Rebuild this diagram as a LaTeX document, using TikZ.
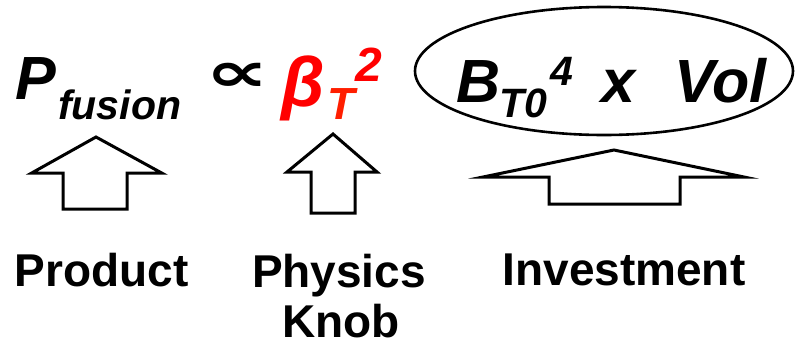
\documentclass[tikz,border=0pt]{standalone}
\usepackage{fontspec}
\setmainfont{Liberation Sans}
\newfontfamily\symfont{DejaVu Sans}
\definecolor{tred}{RGB}{255,0,0}
\definecolor{tredb}{RGB}{255,30,0}
\begin{document}
\begin{tikzpicture}[x=1pt,y=-1pt,
  big/.style={inner sep=0,anchor=base west,font=\fontsize{61}{61}\selectfont\bfseries\itshape},
  small/.style={inner sep=0,anchor=base west,font=\fontsize{41}{41}\selectfont\bfseries\itshape},
  lab/.style={inner sep=0,anchor=base,font=\fontsize{46}{50}\selectfont\bfseries},
  fat/.style={line width=3pt,line join=miter,miter limit=10}]
\useasboundingbox (0,0) rectangle (796,346);
% formula
\node[big] (P) at (15,99) {P};
\node[small] (fus) at (58,119) {fusion};
\node[inner sep=0,anchor=base west,font=\fontsize{56}{56}\selectfont\symfont\bfseries] (prop) at (205,91) {\scalebox{1.6}[1]{∝}};
\node[big,text=tred,font=\fontsize{70}{70}\selectfont\bfseries\itshape] (beta) at (281,106) {β};
\node[small,text=tredb,font=\fontsize{45}{45}\selectfont\bfseries\itshape] (T) at (327,119) {T};
\node[small,text=tred,font=\fontsize{48}{48}\selectfont\bfseries\itshape] (two) at (355,81) {2};
% ellipse group
\draw[line width=2.6pt] (604,71) ellipse [x radius=189, y radius=64];
\node[big] (B) at (456,102) {B};
\node[small] (T0) at (499,117) {T0};
\node[small] (four) at (550,85) {4};
\node[big] (x) at (601,102) {x};
\node[big] (vol) at (674,102) {Vol};
% arrows
\draw[fat] (96,137) -- (161.7,173) -- (127,173) -- (127,209) -- (63,209) -- (63,173) -- (31.7,173) -- cycle;
\draw[fat] (333,134) -- (377,172) -- (355,172) -- (355,213) -- (311,213) -- (311,172) -- (287,172) -- cycle;
\draw[fat] (614,150) -- (744,177) -- (680,177) -- (680,204) -- (549,204) -- (549,177) -- (483,177) -- cycle;
% labels
\node[lab] (prod) at (101.5,286) {Product};
\node[lab] (phys) at (339,287) {Physics};
\node[lab] (knob) at (341,337) {Knob};
\node[lab] (inv) at (624,285) {Investment};
\end{tikzpicture}
\end{document}
